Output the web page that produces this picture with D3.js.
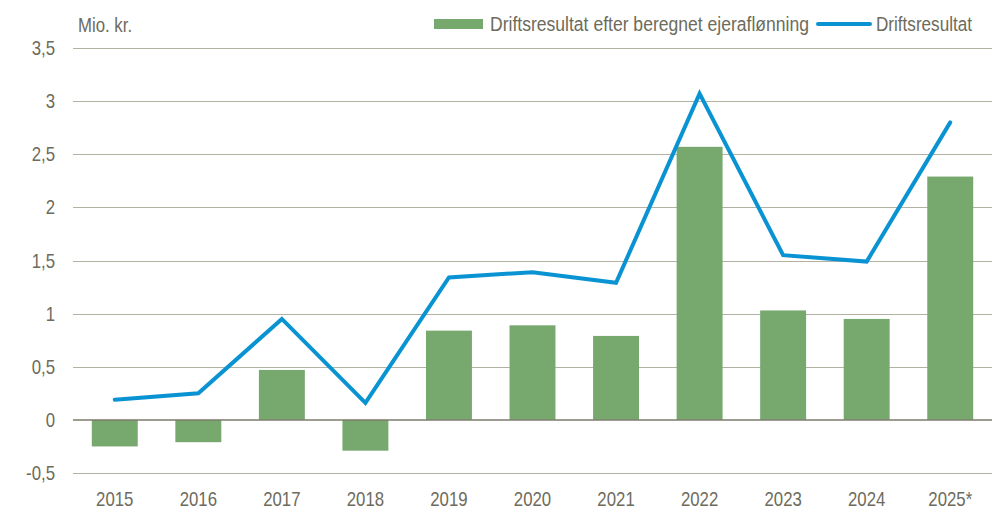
<!DOCTYPE html>
<html>
<head>
<meta charset="utf-8">
<script src="https://cdn.jsdelivr.net/npm/d3@7"></script>
<style>
  body { margin: 0; background: #fff; }
  text { font-family: "Liberation Sans", Arial, sans-serif; fill: #6d6b5c; }
</style>
</head>
<body>
<script>
// data
const years = ['2015', '2016', '2017', '2018', '2019', '2020', '2021', '2022', '2023', '2024', '2025*'];
const barValues = [-0.25, -0.21, 0.47, -0.29, 0.84, 0.89, 0.79, 2.57, 1.03, 0.95, 2.29];
const lineValues = [0.19, 0.25, 0.95, 0.16, 1.34, 1.39, 1.29, 3.07, 1.55, 1.49, 2.80];
const yTicks = [-0.5, 0, 0.5, 1, 1.5, 2, 2.5, 3, 3.5];
const barLabel = 'Driftsresultat efter beregnet ejeraflønning';
const lineLabel = 'Driftsresultat';

const width = 996, height = 514;
const margin = { top: 48, right: 4, bottom: 41, left: 73 };
const fs = 20;
const sx = 0.84; // narrow look of the original font

const svg = d3.select('body').append('svg')
  .attr('width', width)
  .attr('height', height);

const x = d3.scaleBand().domain(years)
  .range([margin.left, width - margin.right])
  .paddingInner(0.45).paddingOuter(0.225);
const y = d3.scaleLinear().domain([-0.5, 3.5])
  .range([height - margin.bottom, margin.top]);

const fmt = d => String(d).replace('.', ',');
const place = (px, py) => `translate(${px},${py}) scale(${sx},1)`;

// gridlines
svg.append('g').selectAll('line').data(yTicks.filter(d => d !== 0))
  .join('line')
  .attr('x1', margin.left).attr('x2', width - margin.right)
  .attr('y1', d => Math.round(y(d)) + 0.5).attr('y2', d => Math.round(y(d)) + 0.5)
  .attr('stroke', '#b3b2a2').attr('stroke-width', 1);

// y labels
svg.append('g').selectAll('text').data(yTicks)
  .join('text')
  .attr('transform', d => place(55, y(d)))
  .attr('dy', '0.35em')
  .attr('text-anchor', 'end')
  .attr('font-size', fs)
  .text(fmt);

// bars
svg.append('g').selectAll('rect').data(barValues)
  .join('rect')
  .attr('x', (d, i) => x(years[i]))
  .attr('width', x.bandwidth())
  .attr('y', d => y(Math.max(0, d)))
  .attr('height', d => Math.abs(y(d) - y(0)))
  .attr('fill', '#77a96f');

// zero line
svg.append('line')
  .attr('x1', margin.left).attr('x2', width - margin.right)
  .attr('y1', y(0)).attr('y2', y(0))
  .attr('stroke', '#7d7b6b').attr('stroke-width', 1.5);

// line series
const line = d3.line()
  .x((d, i) => x(years[i]) + x.bandwidth() / 2)
  .y(d => y(d));
svg.append('path').datum(lineValues)
  .attr('d', line)
  .attr('fill', 'none')
  .attr('stroke', '#0a93d2')
  .attr('stroke-width', 4)
  .attr('stroke-linejoin', 'miter')
  .attr('stroke-linecap', 'round');

// x labels
svg.append('g').selectAll('text').data(years)
  .join('text')
  .attr('transform', d => place(x(d) + x.bandwidth() / 2, height - 8))
  .attr('text-anchor', 'middle')
  .attr('font-size', fs)
  .text(d => d);

// unit label
svg.append('text')
  .attr('transform', place(78, 32))
  .attr('font-size', fs)
  .text('Mio. kr.');

// legend
const leg = svg.append('g');
leg.append('rect')
  .attr('x', 434).attr('y', 19).attr('width', 49).attr('height', 10)
  .attr('fill', '#77a96f');
leg.append('text')
  .attr('x', 490).attr('y', 31)
  .attr('font-size', fs)
  .attr('textLength', 319).attr('lengthAdjust', 'spacingAndGlyphs')
  .text(barLabel);
leg.append('line')
  .attr('x1', 818).attr('x2', 870).attr('y1', 24).attr('y2', 24)
  .attr('stroke', '#0a93d2').attr('stroke-width', 4).attr('stroke-linecap', 'round');
leg.append('text')
  .attr('x', 876).attr('y', 31)
  .attr('font-size', fs)
  .attr('textLength', 96).attr('lengthAdjust', 'spacingAndGlyphs')
  .text(lineLabel);
</script>
</body>
</html>
